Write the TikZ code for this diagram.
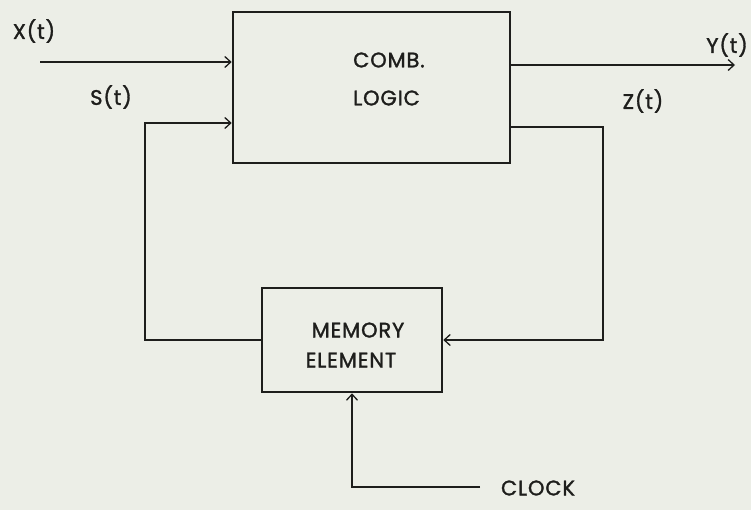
\documentclass[tikz,border=0pt]{standalone}
\usepackage{fontspec}
\setmainfont{Poppins}[FakeBold=1.5,LetterSpace=4]
\usetikzlibrary{arrows.meta}
\definecolor{paper}{HTML}{ECEEE7}
\definecolor{ink}{HTML}{1E1E1C}
\begin{document}
\begin{tikzpicture}[x=1pt,y=-1pt,
  every node/.style={text=ink},
  blk/.style={draw=ink,line width=2.6pt,inner sep=0pt},
  wire/.style={draw=ink,line width=2.3pt},
  arr/.style={wire,-{Straight Barb[length=6pt,width=11pt,line width=1.3pt]}},
  lbl/.style={font=\fontsize{21}{24}\selectfont,inner sep=0pt},
  btxt/.style={font=\fontsize{21}{38}\selectfont,inner sep=0pt,align=left}]
\fill[paper] (0,0) rectangle (751,510);
\useasboundingbox (0,0) rectangle (751,510);
% blocks
\node[blk,minimum width=277pt,minimum height=151pt] (comb) at (371.5,87.5) {};
\node[blk,minimum width=180pt,minimum height=104pt] (mem) at (352,340) {};
\node[btxt,anchor=west] (combt) at (353,79) {COMB.\\LOGIC};
\node[btxt,align=center,font=\fontsize{21}{30}\selectfont] (memt) at (351,345) {\hspace*{14pt}MEMORY\\ELEMENT};
% labels
\node[lbl] (xl) at (34,31) {X(t)};
\node[lbl] (sl) at (111,97) {S(t)};
\node[lbl] (yl) at (727,45) {Y(t)};
\node[lbl] (zl) at (643,101) {Z(t)};
\node[lbl] (ck) at (538,488) {CLOCK};
% free ends / corners
\coordinate (xin) at (40,62);
\coordinate (yout) at (735,65);
\coordinate (sc) at (145,123);
\coordinate (zc) at (603,127);
\coordinate (ckin) at (480,487);
% input X
\draw[arr] (xin) -- (xin -| comb.west);
% output Y
\draw[arr] (yout -| comb.east) -- (yout);
% S feedback
\draw[arr] (mem.west) -| (sc) -- (sc -| comb.west);
% Z feedback
\draw[arr] (zc -| comb.east) -- (zc) |- (mem.east);
% clock
\draw[arr] (ckin) -| (mem.south);
\end{tikzpicture}
\end{document}
